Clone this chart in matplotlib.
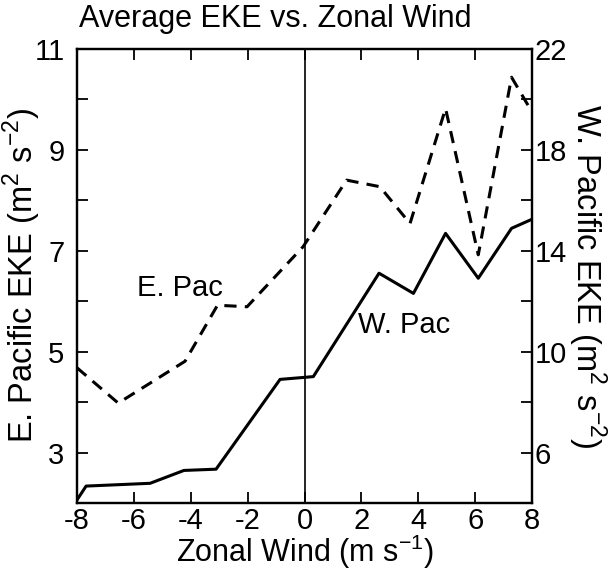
import numpy as np
import matplotlib
matplotlib.use('Agg')
import matplotlib.pyplot as plt
from matplotlib.ticker import MultipleLocator

plt.rcParams['font.family'] = ['Liberation Sans', 'DejaVu Sans']
plt.rcParams['mathtext.fontset'] = 'custom'
plt.rcParams['mathtext.rm'] = 'Liberation Sans'
plt.rcParams['axes.unicode_minus'] = False

# Zonal wind bins (m/s) and EKE for each basin
epac_wind = [-8.0, -6.55, -4.20, -3.06, -2.02, -0.05, 1.48, 2.65, 3.71, 4.96, 6.11, 7.28, 8.0]
epac_eke = [4.68, 3.98, 4.81, 5.92, 5.89, 7.08, 8.40, 8.27, 7.54, 9.82, 6.92, 10.44, 9.75]

wpac_wind = [-8.0, -7.68, -5.43, -4.24, -3.11, -0.86, 0.31, 2.62, 3.83, 4.96, 6.11, 7.28, 8.0]
wpac_eke = [4.12, 4.67, 4.78, 5.29, 5.34, 8.90, 9.01, 13.11, 12.31, 14.69, 12.91, 14.89, 15.25]

fig = plt.figure(figsize=(6.13, 5.73), dpi=100)
ax = fig.add_axes([0.1256, 0.1222, 0.7423, 0.7923])
ax2 = ax.twinx()

ax.plot(epac_wind, epac_eke, color='black', lw=2.2, linestyle=(0, (4, 2.7)))
ax2.plot(wpac_wind, wpac_eke, color='black', lw=2.2)
ax.axvline(0, color='black', lw=1.2)

ax.set_xlim(-8, 8)
ax.set_ylim(2, 11)
ax2.set_ylim(4, 22)

ax.xaxis.set_major_locator(MultipleLocator(2))
ax.yaxis.set_major_locator(MultipleLocator(2, offset=1))
ax.yaxis.set_minor_locator(MultipleLocator(2))
ax2.yaxis.set_major_locator(MultipleLocator(4, offset=2))
ax2.yaxis.set_minor_locator(MultipleLocator(4))

ax.tick_params(axis='x', which='both', direction='in', top=True, length=8, width=1.3,
               labelsize=21, pad=3)
ax.tick_params(axis='y', which='both', direction='in', left=True, right=False, length=8,
               width=1.3, labelsize=21, pad=9)
ax2.tick_params(axis='y', which='both', direction='in', length=8, width=1.3,
                labelsize=21, pad=2)

for a in (ax, ax2):
    for s in a.spines.values():
        s.set_linewidth(1.6)

ax.set_xlabel('Zonal Wind (m s$^{-1}$)', fontsize=22)
ax.xaxis.set_label_coords(0.5, -0.107)
ax.xaxis.label.set_va('center')

ax.set_ylabel('E. Pacific EKE (m$^2$ s$^{-2}$)', fontsize=23.5)
ax.yaxis.set_label_coords(-0.121, 0.5)
ax.yaxis.label.set_va('center')

ax2.set_ylabel('W. Pacific EKE (m$^2$ s$^{-2}$)', fontsize=23.5, rotation=270)
ax2.yaxis.set_label_coords(1.12, 0.5)
ax2.yaxis.label.set_va('center')

ax.set_title('Average EKE vs. Zonal Wind', fontsize=22, x=0.435, y=1.0, pad=16)

ax.text(-5.89, 6.26, 'E. Pac', fontsize=21, va='center', ha='left')
ax.text(1.88, 5.53, 'W. Pac', fontsize=21, va='center', ha='left')

fig.savefig('out.png', dpi=100)
